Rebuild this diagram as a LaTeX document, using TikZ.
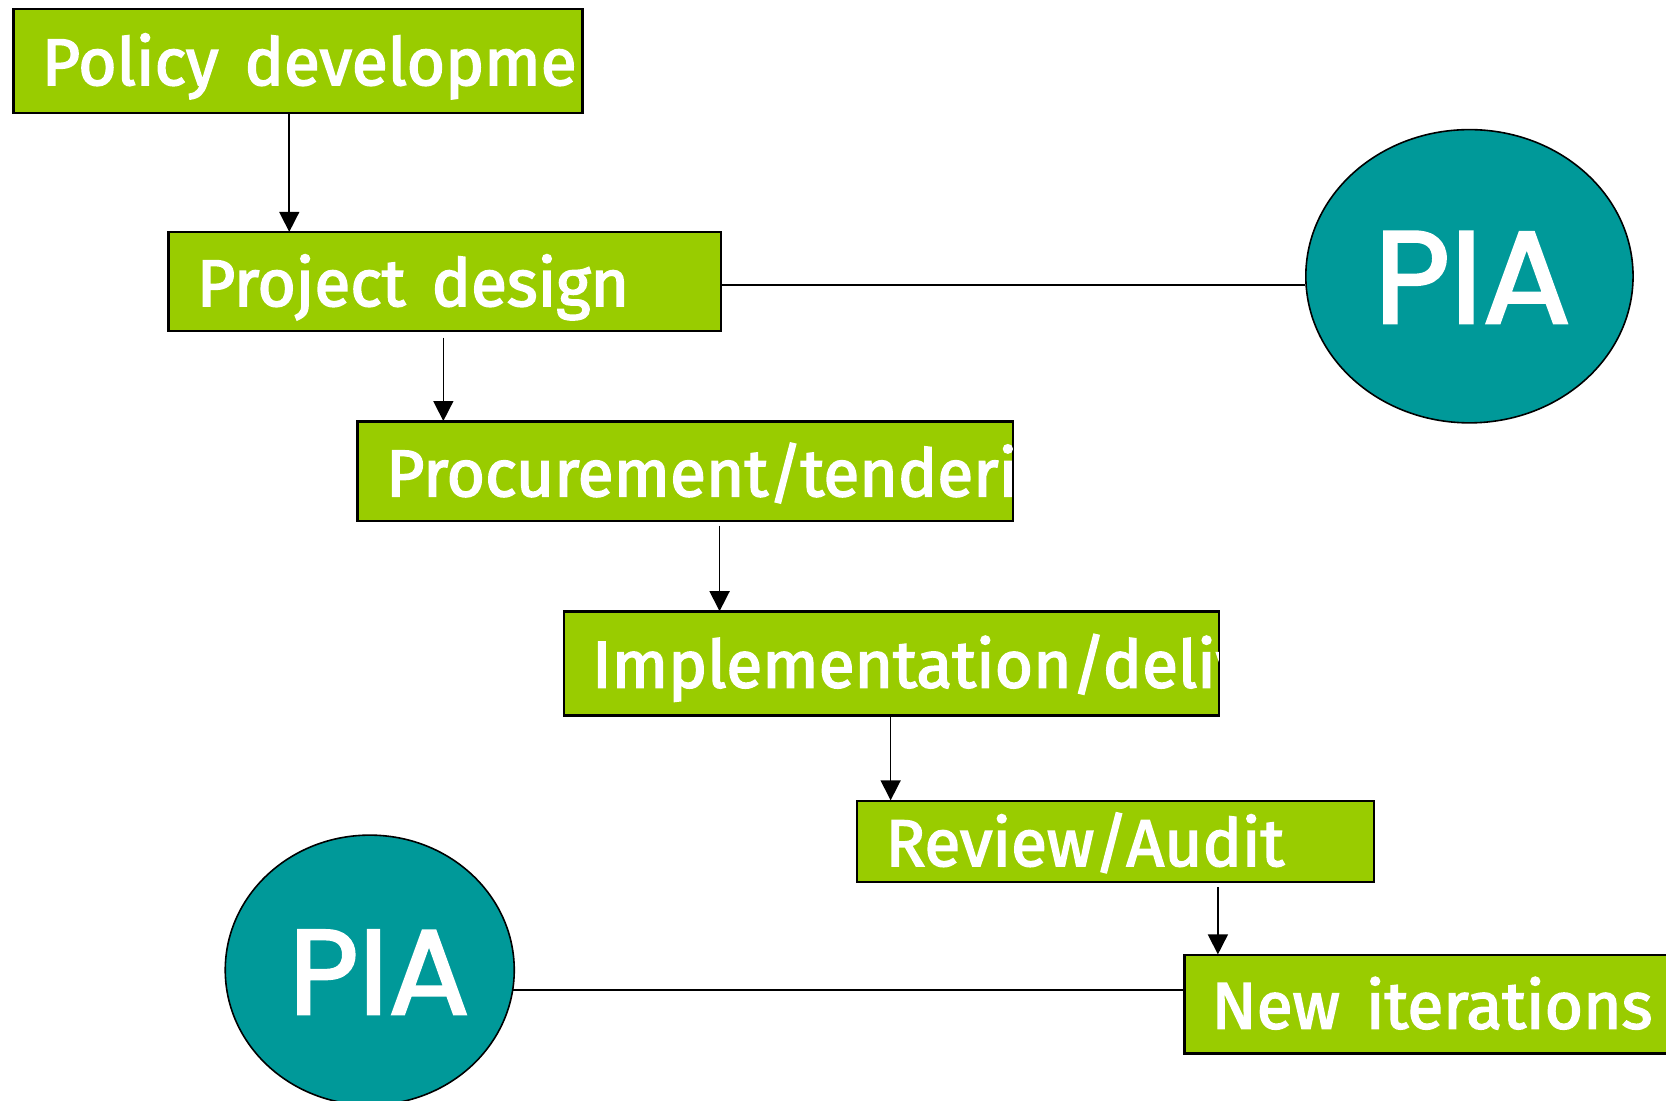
\documentclass[tikz,border=0pt]{standalone}
\usepackage{fontspec}
\setmainfont{Fira Sans}[FakeBold=2.5, WordSpace=1.5]
\newfontfamily\piafont{Poppins}[FakeBold=2]
\usetikzlibrary{arrows.meta,shapes.geometric}
\definecolor{boxgreen}{HTML}{99CC00}
\definecolor{piateal}{HTML}{009999}
\tikzset{
  stepbox/.style={rectangle, fill=boxgreen, draw=black, line width=0.75pt, inner sep=0pt},
  boxlabel/.style={anchor=base west, inner sep=0pt, text=white, font=\fontsize{31}{31}\selectfont},
  piaell/.style={ellipse, fill=piateal, draw=black, line width=0.75pt, inner sep=0pt},
  pialabel/.style={text=white, inner sep=0pt},
  arr/.style={draw=black, line width=0.75pt, -{Triangle[width=9.4pt,length=9.4pt]}},
  link/.style={draw=black, line width=0.75pt},
  border/.style={draw=black, line width=0.75pt}
}
\begin{document}
\begin{tikzpicture}[x=0.5pt,y=-0.5pt]
\useasboundingbox (0,0) rectangle (1568,1036);
% boxes
\node[stepbox, minimum width=267.5pt, minimum height=48.5pt] (b1) at (280.5,57.5) {};
\node[stepbox, minimum width=259.5pt, minimum height=46pt] (b2) at (418.5,265) {};
\node[stepbox, minimum width=308pt, minimum height=46.5pt] (b3) at (645,443.5) {};
\node[stepbox, minimum width=308pt, minimum height=48.5pt] (b4) at (839,624.5) {};
\node[stepbox, minimum width=243pt, minimum height=38pt] (b5) at (1050,792) {};
\node[stepbox, minimum width=242.5pt, minimum height=46pt] (b6) at (1357.5,945) {};
% clipped labels
\begin{scope}
\clip (b1.south west) rectangle (b1.north east);
\node[boxlabel] (t1) at (39,80) {Policy development};
\end{scope}
\begin{scope}
\clip (b2.south west) rectangle (b2.north east);
\node[boxlabel] (t2) at (185,288) {Project design};
\end{scope}
\begin{scope}
\clip (b3.south west) rectangle (b3.north east);
\node[boxlabel] (t3) at (363,467) {Procurement/tendering};
\end{scope}
\begin{scope}
\clip (b4.south west) rectangle (b4.north east);
\node[boxlabel] (t4) at (557,647) {Implementation/delivery};
\end{scope}
\begin{scope}
\clip (b5.south west) rectangle (b5.north east);
\node[boxlabel] (t5) at (833,815) {Review/Audit};
\end{scope}
\begin{scope}
\clip (b6.south west) rectangle (b6.north east);
\node[boxlabel] (t6) at (1140,968) {New iterations};
\end{scope}
\foreach \b in {b1,b2,b3,b4,b5,b6} {\draw[border] (\b.south west) rectangle (\b.north east);}
% PIA ellipses
\node[piaell, minimum width=154pt, minimum height=138pt] (e1) at (1383,260) {};
\node[pialabel, font=\piafont\fontsize{61.7}{62}\selectfont] (p1) at (1386,261) {PIA};
\node[piaell, minimum width=136pt, minimum height=127pt] (e2) at (348,913) {};
\node[pialabel, font=\piafont\fontsize{56.7}{57}\selectfont] (p2) at (357,915) {PIA};
% arrows
\draw[arr] ([xshift=130pt]b1.south west) -- ([xshift=57pt]b2.north west);
\draw[arr] ([xshift=129.5pt,yshift=-3pt]b2.south west) -- ([xshift=40.5pt]b3.north west);
\draw[arr] ([xshift=170.5pt,yshift=-2pt]b3.south west) -- ([xshift=73.5pt]b4.north west);
\draw[arr] ([xshift=154pt]b4.south west) -- ([xshift=16pt]b5.north west);
\draw[arr] ([xshift=170pt,yshift=-2pt]b5.south west) -- ([xshift=16pt]b6.north west);
% links
\draw[link] ([yshift=-1.5pt]b2.east) -- ([yshift=-1.5pt]b2.east -| e1.west);
\draw[link] (e2.-8) -- (e2.-8 -| b6.west);
\end{tikzpicture}
\end{document}
